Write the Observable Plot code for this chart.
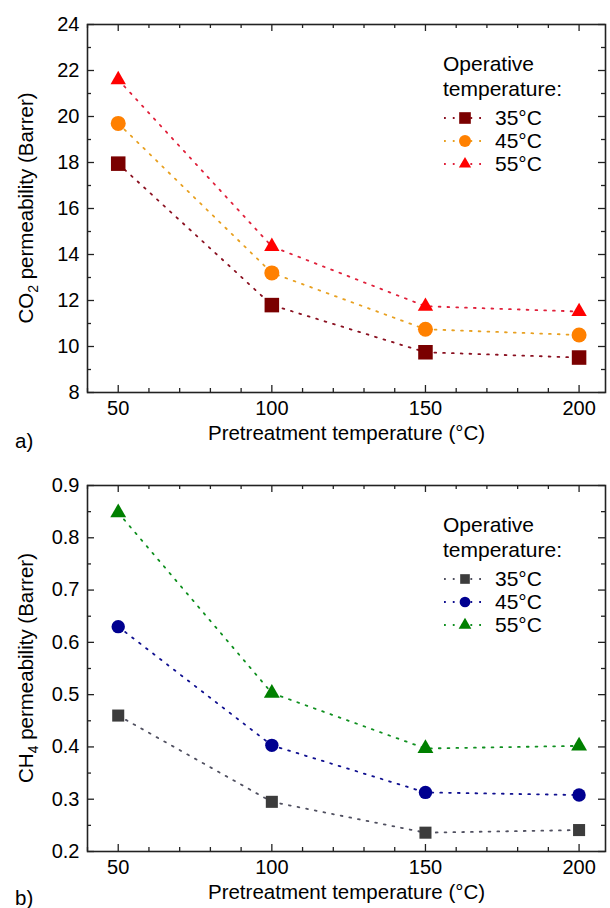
<!DOCTYPE html>
<html><head><meta charset="utf-8">
<script src="https://cdn.jsdelivr.net/npm/d3@7"></script>
<script src="https://cdn.jsdelivr.net/npm/@observablehq/plot@0.6"></script>
<style>
body{margin:0;background:#fff;}
#chart{width:610px;height:908px;}
#chart svg{display:block;}
</style></head><body><div id="chart"></div>
<script>
// ---- data ----
const pretreatment = [50, 100, 150, 200];
const operative = ["35°C", "45°C", "55°C"];
const co2_35 = [17.95, 11.8, 9.75, 9.52];
const co2_45 = [19.7, 13.2, 10.75, 10.5];
const co2_55 = [21.6, 14.35, 11.75, 11.52];
const ch4_35 = [0.46, 0.295, 0.236, 0.241];
const ch4_45 = [0.63, 0.403, 0.313, 0.308];
const ch4_55 = [0.848, 0.503, 0.397, 0.402];
const xTicks = [50, 100, 150, 200];
const xMinor = [40, 60, 70, 80, 90, 110, 120, 130, 140, 160, 170, 180, 190];
const co2Ticks = [8, 10, 12, 14, 16, 18, 20, 22, 24];
const co2Minor = [9, 11, 13, 15, 17, 19, 21, 23];
const ch4Ticks = [0.2, 0.3, 0.4, 0.5, 0.6, 0.7, 0.8, 0.9];
const ch4Minor = [0.25, 0.35, 0.45, 0.55, 0.65, 0.75, 0.85];

const FONT = "'Liberation Sans', Arial, Helvetica, sans-serif";
const W = 610, H = 454, ML = 87, MR = 5;
const DASH = "1.8,7";

function panel(cfg) {
  const innerH = H - cfg.mt - cfg.mb;
  const innerW = W - ML - MR;
  const rows = [];
  cfg.series.forEach((vals, s) => vals.forEach((v, i) => rows.push({x: pretreatment[i], y: v, s})));
  const tickStyle = {stroke: "#222", strokeWidth: 1.3};
  const marks = [
    Plot.axisX({ticks: xTicks, tickSize: 0, tickPadding: 8, fontSize: 20, label: null}),
    Plot.axisY({ticks: cfg.yTicks, tickSize: 0, tickPadding: 8, fontSize: 20, label: null, tickFormat: cfg.fmt}),
    Plot.ruleX(xTicks, {x: d => d, insetTop: innerH - 7, ...tickStyle}),
    Plot.ruleX(xMinor, {x: d => d, insetTop: innerH - 4, ...tickStyle}),
    Plot.ruleX(xTicks, {x: d => d, insetBottom: innerH - 7, ...tickStyle}),
    Plot.ruleX(xMinor, {x: d => d, insetBottom: innerH - 4, ...tickStyle}),
    Plot.ruleY(cfg.yTicks, {y: d => d, insetRight: innerW - 7, ...tickStyle}),
    Plot.ruleY(cfg.yMinor, {y: d => d, insetRight: innerW - 4, ...tickStyle}),
    Plot.ruleY(cfg.yTicks, {y: d => d, insetLeft: innerW - 7, ...tickStyle}),
    Plot.ruleY(cfg.yMinor, {y: d => d, insetLeft: innerW - 4, ...tickStyle}),
    Plot.frame({stroke: "#222", strokeWidth: 1.6})
  ];
  cfg.series.forEach((vals, s) => {
    const data = rows.filter(d => d.s === s);
    marks.push(Plot.line(data, {x: "x", y: "y", stroke: cfg.lineColors[s], strokeWidth: 1.8, strokeDasharray: DASH}));
  });
  cfg.series.forEach((vals, s) => {
    const data = rows.filter(d => d.s === s);
    marks.push(Plot.dot(data, {x: "x", y: "y", symbol: cfg.symbols[s], r: cfg.radii[s], fill: cfg.colors[s], stroke: "none"}));
  });
  marks.push(Plot.text([cfg.xlabel], {text: d => d, frameAnchor: "bottom", dy: cfg.xlabelDy, fontSize: 20.5, fill: "#000"}));

  const svg = Plot.plot({
    width: W, height: H, marginLeft: ML, marginRight: MR, marginTop: cfg.mt, marginBottom: cfg.mb,
    x: {domain: [40, 208.6]},
    y: {domain: cfg.yDomain},
    style: {fontFamily: FONT, fontSize: "20px", color: "#000", background: "#fff", overflow: "visible"},
    marks
  });

  const g = d3.select(svg);
  const yc = cfg.mt + innerH / 2;
  const t = g.append("text")
    .attr("transform", `translate(26,${yc}) rotate(-90)`)
    .attr("text-anchor", "middle").attr("dy", "0.35em")
    .attr("font-family", FONT).attr("font-size", 20.5).attr("fill", "#000");
  t.append("tspan").text(cfg.ylabel[0]);
  t.append("tspan").attr("dy", 5).attr("font-size", 14).text(cfg.ylabel[1]);
  t.append("tspan").attr("dy", -5).text(cfg.ylabel[2]);
  g.append("text").attr("x", 15).attr("y", cfg.tagY).attr("dy", "0.35em")
    .attr("text-anchor", "start")
    .attr("font-family", FONT).attr("font-size", 20.5).attr("fill", "#000").text(cfg.tag);
  const lg = g.append("g").attr("font-family", FONT).attr("font-size", 21).attr("fill", "#000").attr("text-anchor", "start");
  const t0 = cfg.mt;
  lg.append("text").attr("x", 443).attr("y", t0 + 40).attr("dy", "0.35em").text("Operative");
  lg.append("text").attr("x", 443).attr("y", t0 + 65).attr("dy", "0.35em").text("temperature:");
  const symMap = {square: d3.symbolSquare, circle: d3.symbolCircle, triangle: d3.symbolTriangle};
  operative.forEach((lab, s) => {
    const yy = t0 + 94 + s * 23;
    lg.append("line").attr("x1", 444).attr("x2", 486).attr("y1", yy).attr("y2", yy)
      .attr("stroke", cfg.lineColors[s]).attr("stroke-width", 1.8).attr("stroke-dasharray", DASH);
    const r = cfg.radii[s] * 0.8;
    lg.append("path").attr("transform", `translate(465,${yy})`)
      .attr("d", d3.symbol(symMap[cfg.symbols[s]], Math.PI * r * r)())
      .attr("fill", cfg.colors[s]);
    lg.append("text").attr("x", 495).attr("y", yy).attr("dy", "0.35em").text(lab);
  });
  return svg;
}

const panelA = panel({
  series: [co2_35, co2_45, co2_55],
  colors: ["#7a0000", "#ff8000", "#ff0000"],
  lineColors: ["#8a1020", "#e8a020", "#e0203a"],
  symbols: ["square", "circle", "triangle"],
  radii: [8.2, 7.5, 5.7],
  yDomain: [8, 24], yTicks: co2Ticks, yMinor: co2Minor, fmt: d3.format("d"),
  ylabel: ["CO", "2", " permeability (Barrer)"],
  xlabel: "Pretreatment temperature (°C)", xlabelDy: 47,
  tag: "a)", tagY: 441,
  mt: 24, mb: 62
});
const panelB = panel({
  series: [ch4_35, ch4_45, ch4_55],
  colors: ["#3c3c3c", "#000090", "#008000"],
  lineColors: ["#505060", "#101090", "#109020"],
  symbols: ["square", "circle", "triangle"],
  radii: [6.8, 6.7, 5.9],
  yDomain: [0.2, 0.9], yTicks: ch4Ticks, yMinor: ch4Minor, fmt: d3.format(".1f"),
  ylabel: ["CH", "4", " permeability (Barrer)"],
  xlabel: "Pretreatment temperature (°C)", xlabelDy: 47,
  tag: "b)", tagY: 444,
  mt: 31, mb: 57
});
document.getElementById("chart").append(panelA, panelB);
</script></body></html>
